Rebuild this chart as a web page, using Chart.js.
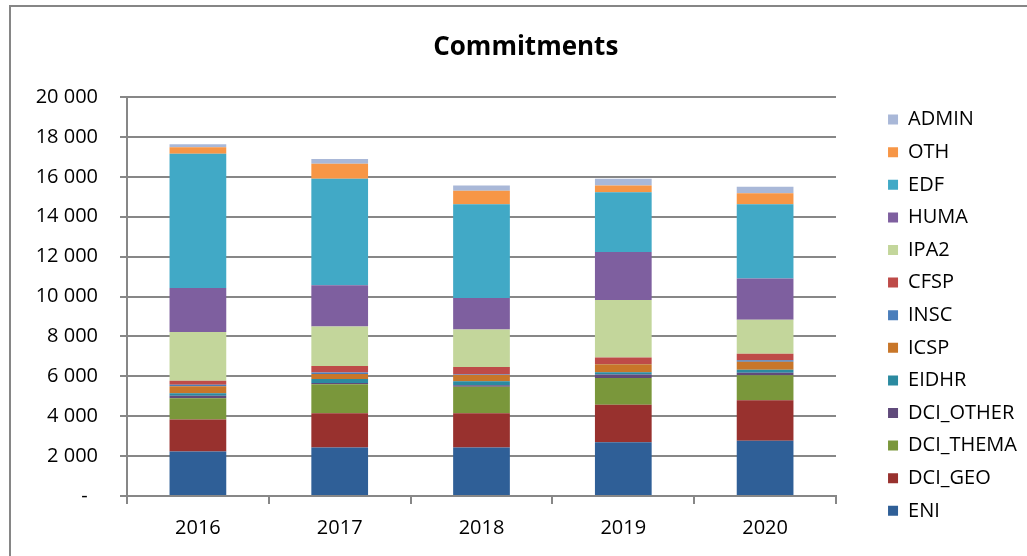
<!DOCTYPE html>
<html>
    <head>
        <title>Commitments</title>
        <script src="https://cdn.jsdelivr.net/npm/chart.js@4.4.1/dist/chart.umd.min.js"></script>
        <style>
            body { margin: 0; background: #ffffff; }
            #frame {
                position: absolute; left: 9px; top: 5px;
                width: 1016px; height: 549px;
                border-left: 2px solid #868686; border-top: 2px solid #868686;
            }
        </style>
    </head>
    <body>
        <div id="frame"><canvas id="myChart"></canvas></div>

        <script>
            // chart data
            const years = ['2016', '2017', '2018', '2019', '2020'];
            const ENI        = [2230, 2430, 2430, 2700, 2770];
            const DCI_GEO    = [1600, 1720, 1720, 1870, 2030];
            const DCI_THEMA  = [1070, 1450, 1320, 1350, 1250];
            const DCI_OTHER  = [130, 70, 80, 170, 130];
            const EIDHR      = [120, 200, 200, 110, 150];
            const ICSP       = [350, 250, 320, 400, 400];
            const INSC       = [80, 70, 20, 20, 70];
            const CFSP       = [200, 330, 370, 320, 330];
            const IPA2       = [2440, 1980, 1890, 2890, 1700];
            const HUMA       = [2210, 2070, 1570, 2400, 2070];
            const EDF        = [6720, 5330, 4710, 3000, 3730];
            const OTH        = [330, 750, 670, 340, 540];
            const ADMIN      = [150, 240, 270, 330, 330];
            const yTicks = [0, 2000, 4000, 6000, 8000, 10000, 12000, 14000, 16000, 18000, 20000];

            const series = [
                ['ENI', ENI, '#2f5f97'],
                ['DCI_GEO', DCI_GEO, '#98312e'],
                ['DCI_THEMA', DCI_THEMA, '#7a973b'],
                ['DCI_OTHER', DCI_OTHER, '#604a7b'],
                ['EIDHR', EIDHR, '#2b8aa0'],
                ['ICSP', ICSP, '#c87629'],
                ['INSC', INSC, '#4a7ebb'],
                ['CFSP', CFSP, '#be4b48'],
                ['IPA2', IPA2, '#c3d69b'],
                ['HUMA', HUMA, '#7e5f9f'],
                ['EDF', EDF, '#41a9c6'],
                ['OTH', OTH, '#f79646'],
                ['ADMIN', ADMIN, '#a9b8d8']
            ];

            const gridColor = '#878787';
            const fontFamily = '"Open Sans", sans-serif';
            Chart.defaults.font.family = fontFamily;
            Chart.defaults.color = '#000000';

            // layout targets (canvas coords)
            const W = 1016, H = 549;
            const areaLeft = 116, areaRight = 825, areaBottom = 489;
            const legendFont = 20, legendPad = 12.6, legendBox = 10, legendX = 878;
            const legendTop = 90;

            // legend width depends on the text, measure it so the boxes land where they should
            const mctx = document.createElement('canvas').getContext('2d');
            mctx.font = legendFont + 'px ' + fontFamily;
            let maxText = 0;
            series.forEach(s => { maxText = Math.max(maxText, mctx.measureText(s[0]).width); });
            const legendW = legendPad + legendBox + legendFont / 2 + maxText + 10;
            const legendLeft = legendX - legendPad;
            const padRight = Math.max(0, W - legendLeft - legendW);
            const spacer = (W - padRight - legendW) - areaRight;

            const datasets = series.map(s => ({
                label: s[0],
                data: s[1],
                backgroundColor: s[2],
                borderWidth: 0,
                categoryPercentage: 1.0,
                barPercentage: 0.4
            }));

            const ctx = document.getElementById('myChart');
            const myChart = new Chart(ctx, {
                type: 'bar',
                data: { labels: years, datasets: datasets },
                options: {
                    responsive: true,
                    maintainAspectRatio: false,
                    animation: false,
                    layout: { padding: { left: 0, right: padRight, top: 0, bottom: 0 } },
                    plugins: {
                        title: {
                            display: true,
                            text: '  Commitments',
                            color: '#000000',
                            font: { size: 26, weight: 'bold' },
                            padding: { top: 25.4, bottom: 33.4 }
                        },
                        legend: {
                            position: 'right',
                            align: 'start',
                            reverse: true,
                            // empty title only used to push the items down below the chart title
                            title: {
                                display: true,
                                text: ' ',
                                font: { size: 10 },
                                padding: { top: legendTop - 12, bottom: 0 }
                            },
                            labels: {
                                boxWidth: legendBox,
                                boxHeight: legendBox,
                                padding: legendPad,
                                color: '#000000',
                                font: { size: legendFont }
                            }
                        },
                        tooltip: { enabled: false }
                    },
                    scales: {
                        x: {
                            stacked: true,
                            grid: {
                                offset: true,
                                drawOnChartArea: false,
                                drawTicks: true,
                                tickLength: 8,
                                color: gridColor,
                                lineWidth: 2
                            },
                            border: { color: gridColor, width: 2 },
                            ticks: { padding: 12, font: { size: 20 }, color: '#000000' },
                            afterFit: function(scale) { scale.height = H - areaBottom; }
                        },
                        y: {
                            stacked: true,
                            min: 0,
                            max: 20000,
                            afterBuildTicks: function(scale) {
                                scale.ticks = yTicks.map(v => ({ value: v }));
                            },
                            grid: { color: gridColor, lineWidth: 2, tickLength: 7 },
                            border: { color: gridColor, width: 2 },
                            ticks: {
                                padding: 22,
                                font: { size: 20 },
                                color: '#000000',
                                callback: function(v) {
                                    if (v === 0) return '-  ';
                                    return String(v).replace(/\B(?=(\d{3})+(?!\d))/g, ' ');
                                }
                            },
                            afterFit: function(scale) { scale.width = areaLeft; }
                        },
                        y2: {
                            position: 'right',
                            grid: { display: false },
                            border: { display: false },
                            ticks: { display: false },
                            afterFit: function(scale) { scale.width = spacer; }
                        }
                    }
                }
            });
        </script>
    </body>
</html>
